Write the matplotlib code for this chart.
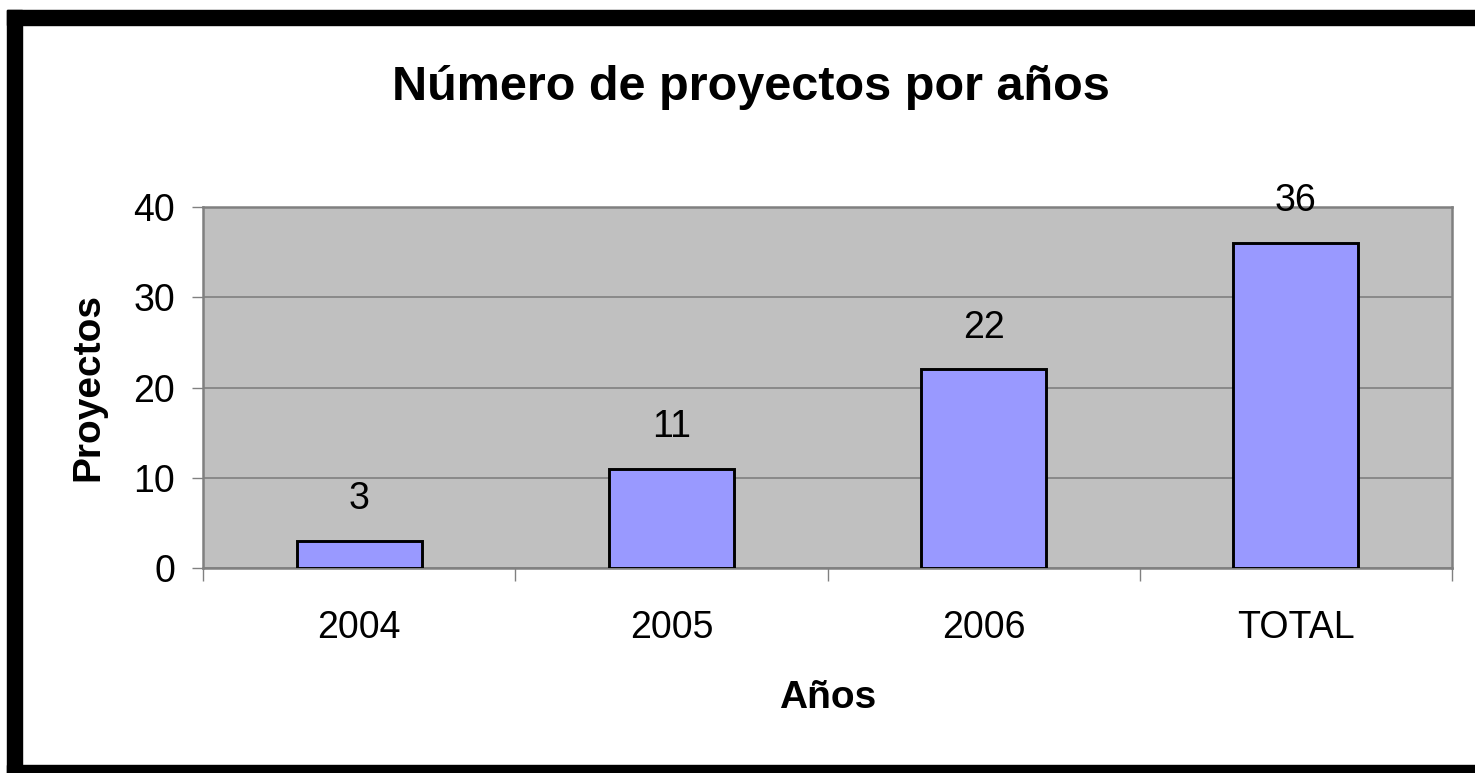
import matplotlib.pyplot as plt
from matplotlib.patches import Rectangle

categories = ["2004", "2005", "2006", "TOTAL"]
proyectos = [3, 11, 22, 36]
y_ticks = [0, 10, 20, 30, 40]

plt.rcParams['font.family'] = ['Liberation Sans', 'DejaVu Sans']

W, H = 1475, 773
fig = plt.figure(figsize=(W / 100, H / 100), dpi=100, facecolor="white")
ax = fig.add_axes([203 / W, 1 - 568 / H, (1452 - 203) / W, (568 - 207) / H])

ax.set_facecolor("#C0C0C0")
x = list(range(len(categories)))
ax.bar(x, proyectos, width=0.40, color="#9999FF", edgecolor="black",
       linewidth=2.1, zorder=3)

for xi, v in zip(x, proyectos):
    ax.annotate(str(v), (xi, v), xytext=(0, 30), textcoords="offset points",
                ha="center", va="center", fontsize=27, zorder=5,
                annotation_clip=False)

ax.set_xlim(-0.5, len(categories) - 0.5)
ax.set_ylim(0, 40)
ax.set_yticks(y_ticks)
ax.set_xticks(x)
ax.set_xticklabels(categories)
ax.set_xticks([i - 0.5 for i in range(len(categories) + 1)], minor=True)

ax.tick_params(axis="y", labelsize=27, length=8, width=1, color="#808080", pad=12)
ax.tick_params(axis="x", which="major", labelsize=27, length=0, pad=30)
ax.tick_params(axis="x", which="minor", length=9, width=1, color="#808080")

ax.grid(axis="y", color="#808080", linewidth=1.2, zorder=1)
for s in ax.spines.values():
    s.set_color("#808080")
    s.set_linewidth(1.8)

fig.text(751 / W, 1 - 100 / H, "Número de proyectos por años", ha="center",
         va="baseline", fontsize=35, fontweight="bold")
fig.text(828 / W, 1 - 708 / H, "Años", ha="center", va="baseline",
         fontsize=28, fontweight="bold")
fig.text(88 / W, 1 - 387 / H, "Proyectos", ha="center", va="center",
         rotation=90, fontsize=28, fontweight="bold")

# black frame (top, left, bottom)
fig.patches.append(Rectangle((7 / W, 1 - 25 / H), 1, 15 / H, transform=fig.transFigure,
                             color="black", zorder=10))
fig.patches.append(Rectangle((7 / W, 0), 15 / W, 1 - 10 / H, transform=fig.transFigure,
                             color="black", zorder=10))
fig.patches.append(Rectangle((7 / W, 0), 1, 8 / H, transform=fig.transFigure,
                             color="black", zorder=10))

fig.savefig("out.png", dpi=100, facecolor="white")
